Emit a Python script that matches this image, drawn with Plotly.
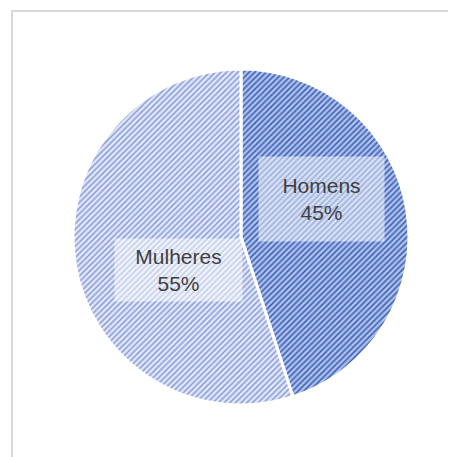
import plotly.graph_objects as go

labels = ["Homens", "Mulheres"]
values = [45, 55]

W, H = 456, 457
OFF = 8  # margem do body da página

def px_x(x):
    return (x - OFF) / W

def px_y(y):
    return (H - (y - OFF)) / H

fig = go.Figure()
fig.add_trace(go.Pie(
    labels=labels,
    values=values,
    sort=False,
    direction="clockwise",
    rotation=0,
    textinfo="none",
    hoverinfo="label+percent",
    showlegend=False,
    domain=dict(x=[px_x(73), px_x(409)], y=[px_y(405), px_y(69)]),
    marker=dict(
        colors=["#b7c5ea", "#e4e9f7"],
        line=dict(color="white", width=3),
        pattern=dict(
            shape="/",
            size=4,
            solidity=0.4,
            fgcolor=["#3a62bb", "#8a9edb"],
            bgcolor=["#b3c2e9", "#e4e9f7"],
            fillmode="replace",
        ),
    ),
))

# rótulos com fundo branco translúcido
ann_pos = {"Homens": (321, 199, 123, 82), "Mulheres": (178, 270, 125, 60)}
total = sum(values)
for lab, val in zip(labels, values):
    cx, cy, bw, bh = ann_pos[lab]
    fig.add_annotation(
        x=px_x(cx), y=px_y(cy), xref="paper", yref="paper",
        xanchor="center", yanchor="middle",
        text=f"{lab}<br>{round(val / total * 100)}%",
        showarrow=False,
        font=dict(family="Liberation Sans, Arial", size=21, color="#404040"),
        bgcolor="rgba(255,255,255,0.5)",
        width=bw, height=bh,
        align="center",
    )

# borda do gráfico
fig.add_shape(
    type="rect", xref="paper", yref="paper",
    x0=px_x(12), x1=1.05, y0=-0.05, y1=px_y(11),
    line=dict(color="#d9d9d9", width=2),
    fillcolor="rgba(0,0,0,0)",
)

fig.update_layout(
    width=W, height=H,
    margin=dict(l=0, r=0, t=0, b=0),
    paper_bgcolor="white",
    plot_bgcolor="white",
)

fig.write_html("out.html")
